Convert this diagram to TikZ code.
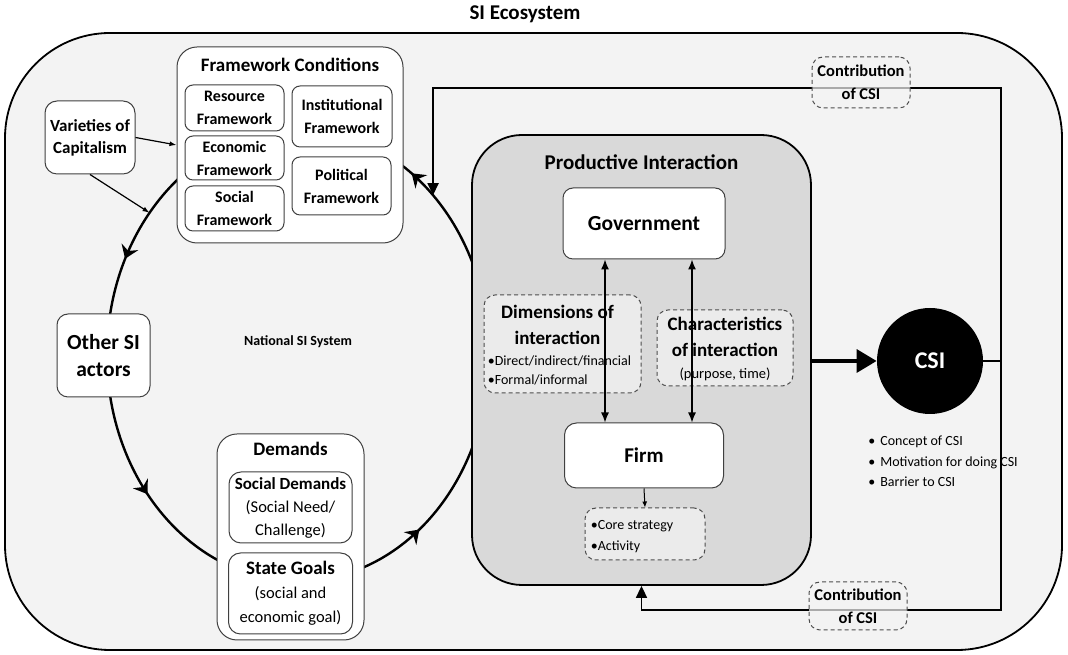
\documentclass[tikz,border=0pt]{standalone}
\usepackage{fontspec}
\setmainfont{Carlito}
\usepackage{tikz}
\usetikzlibrary{arrows.meta,positioning,calc,decorations.markings}
\usepackage{xcolor}
\definecolor{ecofill}{HTML}{F3F3F3}
\definecolor{pifill}{HTML}{D9D9D9}
\definecolor{boxline}{HTML}{404040}
\definecolor{dashline}{HTML}{4D4D4D}
\newcommand{\fsz}[2]{\fontsize{#1}{#2}\selectfont}

\begin{document}
\begin{tikzpicture}[
  x=1pt, y=1pt, line width=0.8pt,
  eco/.style={draw=black, line width=1.8pt, fill=ecofill, rounded corners=105pt},
  group/.style={draw=boxline, line width=1pt, fill=white, rounded corners=20pt,
                inner sep=0pt},
  grouptitle/.style={font=\fsz{19}{23}\bfseries, inner sep=0pt},
  cell/.style={draw=boxline, line width=1pt, fill=white, rounded corners=8pt,
               align=center, inner sep=0pt, font=\fsz{16}{23}\bfseries},
  actor/.style={cell, rounded corners=11pt, font=\fsz{21.5}{27}\bfseries},
  pibox/.style={draw=black, line width=1.8pt, fill=pifill, rounded corners=50pt,
                inner sep=0pt},
  dashbox/.style={draw=dashline, dash pattern=on 4pt off 3pt, line width=1pt,
                  fill=ecofill, fill opacity=0.7, rounded corners=11pt,
                  inner sep=0pt},
  btxt/.style={font=\fsz{19}{26}\bfseries, align=center, inner sep=0pt,
               anchor=base},
  stxt/.style={font=\fsz{14}{19}, align=left, inner sep=0pt, anchor=base west},
  loopline/.style={draw=black, line width=2.4pt},
  cyctip/.tip={Stealth[length=13pt,width=18pt,inset=4.5pt,line width=0pt]},
  cycarrow/.style={decoration={markings,
      mark=at position 0.155 with {\arrow{cyctip}},
      mark=at position 0.425 with {\arrow{cyctip}},
      mark=at position 0.612 with {\arrow{cyctip}},
      mark=at position 0.853 with {\arrow{cyctip}}},
    postaction={decorate}},
  thin arr/.style={-{Latex[length=7pt,width=5pt]}, line width=1.2pt},
  link/.style={{Latex[length=10pt,width=8pt]}-{Latex[length=10pt,width=8pt]},
               line width=1.3pt},
  bigarr/.style={-{Triangle[length=20pt,width=23pt]}, line width=3.5pt},
  feedback/.style={-{Triangle[length=12pt,width=11pt]}, line width=1.6pt}
]
  \useasboundingbox (0,0) rectangle (1068,655);

  % ecosystem frame
  \node[eco, minimum width=1057, minimum height=617] (eco) at (533.5,313.5) {};
  \node[font=\fsz{21}{25}\bfseries, inner sep=0pt] (ecotitle) at (525,641) {SI Ecosystem};

  % national cycle
  \coordinate (cyc) at (298,300);
  \draw[loopline, cycarrow] (cyc) ++(0:191 and 226)
        arc[start angle=0, end angle=360, x radius=191, y radius=226];
  \coordinate (fcin)  at ($(cyc)+(45:191 and 226)$);
  \coordinate (capin) at ($(cyc)+(141:191 and 226)$);
  \node[font=\fsz{14}{17}\bfseries, inner sep=0pt] (nsis) at (298,313) {National SI System};

  % framework conditions
  \node[group, minimum width=226, minimum height=196] (fc) at (290,510) {};
  \node[grouptitle] at ([yshift=-18pt]fc.north) {Framework Conditions};
  \node[cell, minimum width=99, minimum height=46] (resfw) at (234.5,547) {Resource\\Framework};
  \node[cell, minimum width=99, minimum height=44] (ecofw) at (234.5,497) {Economic\\Framework};
  \node[cell, minimum width=99, minimum height=45] (socfw) at (234.5,446.5) {Social\\Framework};
  \node[cell, minimum width=100, minimum height=61] (insfw) at (342,538.5) {Institutional\\Framework};
  \node[cell, minimum width=99, minimum height=58] (polfw) at (341.5,469) {Political\\Framework};

  \node[cell, rounded corners=12pt, minimum width=90, minimum height=73,
        font=\fsz{17}{22}\bfseries] (voc) at (90,517.5) {Varieties of\\Capitalism};
  \draw[thin arr] (voc.east) -- (fc.west);
  \draw[thin arr] (voc.south) -- (capin);

  \node[actor, minimum width=93, minimum height=83] (others) at (103.5,299.5) {Other SI\\actors};

  % demands
  \node[group, minimum width=147, minimum height=206] (dem) at (290.5,118) {};
  \node[grouptitle] at ([yshift=-15pt]dem.north) {Demands};
  \node[cell, rounded corners=12pt, minimum width=123, minimum height=71,
        font=\fsz{16.5}{23}] (socdem) at (290.5,147.5)
        {{\fsz{17}{23}\bfseries Social Demands}\\(Social Need/\\Challenge)};
  \node[cell, rounded corners=12pt, minimum width=124, minimum height=81,
        font=\fsz{16.5}{24}] (stgoal) at (290.5,61.5)
        {{\fsz{19}{24}\bfseries State Goals}\\(social and\\economic goal)};

  % productive interaction
  \node[pibox, minimum width=339, minimum height=450] (pi) at (641.5,295) {};
  \node[font=\fsz{21}{25}\bfseries, inner sep=0pt] at ([yshift=-28pt]pi.north) {Productive Interaction};
  \node[cell, rounded corners=10pt, minimum width=162, minimum height=71,
        font=\fsz{21.5}{25}\bfseries] (gov) at (644,431.5) {Government};
  \node[cell, rounded corners=12pt, minimum width=159, minimum height=65,
        font=\fsz{21}{25}\bfseries] (firm) at (644,199.5) {Firm};

  \node[dashbox, minimum width=157, minimum height=98] (dims) at (562.5,311) {};
  \node[btxt] at ([xshift=-5pt,yshift=-50pt]dims.north) {Dimensions of\\interaction};
  \node[stxt] at ([xshift=4pt,yshift=-90pt]dims.north west)
        {•Direct/indirect/financial\\•Formal/informal};
  \node[dashbox, minimum width=136, minimum height=76] (chars) at (725,307) {};
  \node[btxt] at ([yshift=-47pt]chars.north) {Characteristics\\of interaction};
  \node[font=\fsz{14.5}{18}, inner sep=0pt, anchor=base] at ([yshift=-69pt]chars.north) {(purpose, time)};

  \draw[link] ([xshift=-39pt]gov.south) -- ([xshift=-39pt]firm.north);
  \draw[link] ([xshift=48pt]gov.south) -- ([xshift=48pt]firm.north);

  \node[dashbox, minimum width=120, minimum height=52] (core) at (645,121) {};
  \node[stxt, font=\fsz{14}{21}] at ([xshift=6pt,yshift=-43pt]core.north west) {•Core strategy\\•Activity};
  \draw[-{Latex[length=6pt,width=5pt]}, line width=1pt] (firm.south) -- (core.north);

  % CSI
  \node[circle, fill=black, minimum size=106, inner sep=0pt, text=white,
        font=\fsz{24}{28}\bfseries] (csi) at (930,294) {CSI};
  \draw[bigarr] (pi.east |- csi.west) -- (csi.west);
  \node[stxt, font=\fsz{14}{20.5}] (csinote) at (868,168)
        {•\hspace{5pt}Concept of CSI\\•\hspace{5pt}Motivation for doing CSI\\•\hspace{5pt}Barrier to CSI};

  % contribution loops
  \coordinate (topR) at (1001,567);
  \coordinate (botR) at (1001,45);
  \draw[feedback] (csi.east) -| (topR) -| (fcin);
  \draw[feedback] (csi.east) -| (botR) -| (pi.south);
  \node[dashbox, minimum width=98, minimum height=51] (contop) at (861,572.5) {};
  \node[font=\fsz{16.5}{23}\bfseries, align=center, inner sep=0pt] at (contop) {Contribution\\of CSI};
  \node[dashbox, minimum width=98, minimum height=48] (conbot) at (858,49) {};
  \node[font=\fsz{16.5}{23}\bfseries, align=center, inner sep=0pt] at (conbot) {Contribution\\of CSI};
\end{tikzpicture}
\end{document}
